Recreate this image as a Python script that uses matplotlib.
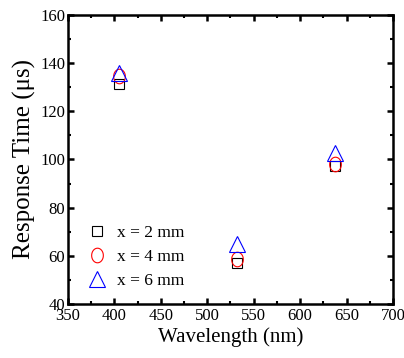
import numpy as np
import matplotlib
matplotlib.use("Agg")
import matplotlib.pyplot as plt
from matplotlib.path import Path
from matplotlib.ticker import MultipleLocator

wavelength = [405, 532, 638]
t_2mm = [131.5, 57.0, 97.5]
t_4mm = [134.5, 58.5, 98.0]
t_6mm = [136.0, 65.0, 102.5]
labels = ["x = 2 mm", "x = 4 mm", "x = 6 mm"]

plt.rcParams["font.family"] = ["Liberation Serif", "DejaVu Serif"]

# slightly tall ellipse marker for the circle series
th = np.linspace(0, 2 * np.pi, 60)
ellipse = Path(np.column_stack([0.8 * np.cos(th), np.sin(th)]))

fig = plt.figure(figsize=(4.04, 3.58), dpi=100)
ax = fig.add_axes([0.168, 0.151, 0.805, 0.807])

kw = dict(linestyle="none", markerfacecolor="none", markeredgewidth=0.8)
ax.plot(wavelength, t_2mm, marker="s", markersize=7.2, color="black", label=labels[0], **kw)
ax.plot(wavelength, t_4mm, marker=ellipse, markersize=10.5, color="red", label=labels[1], **kw)
ax.plot(wavelength, t_6mm, marker="^", markersize=11, color="blue", label=labels[2], **kw)

ax.set_xlim(350, 700)
ax.set_ylim(40, 160)
ax.xaxis.set_major_locator(MultipleLocator(50))
ax.xaxis.set_minor_locator(MultipleLocator(25))
ax.yaxis.set_major_locator(MultipleLocator(20))
ax.yaxis.set_minor_locator(MultipleLocator(10))
ax.tick_params(which="both", direction="in", top=True, right=True, labelsize=12, pad=2)
ax.tick_params(axis="x", pad=3)
ax.tick_params(which="major", length=4, width=1.8)
ax.tick_params(which="minor", length=2.5, width=1.5)
for s in ax.spines.values():
    s.set_linewidth(1.8)

ax.set_xlabel("Wavelength (nm)", fontsize=15, labelpad=2)
ax.set_ylabel("Response Time (\u03bcs)", fontsize=18, labelpad=3)

ax.legend(loc="lower left", bbox_to_anchor=(-0.005, -0.025), frameon=False, fontsize=12.5,
          handlelength=1.0, handletextpad=0.6, labelspacing=0.45, borderpad=0.8)

fig.savefig("out.png", dpi=100)
